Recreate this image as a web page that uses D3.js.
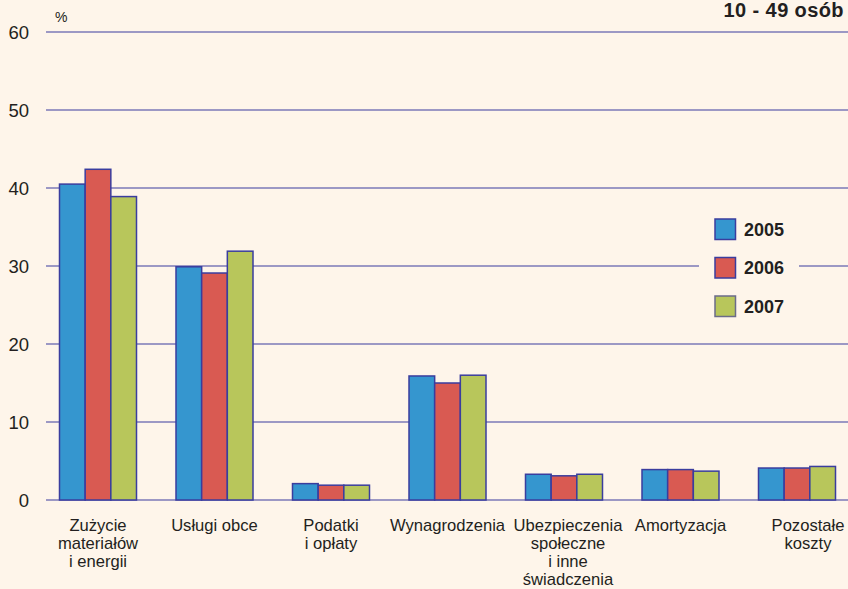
<!DOCTYPE html>
<html>
<head>
<meta charset="utf-8">
<script src="https://cdn.jsdelivr.net/npm/d3@7"></script>
<style>
  body { margin: 0; background: #fef5ea; }
  svg { display: block; font-family: "Liberation Sans", Arial, sans-serif; }
</style>
</head>
<body>
<div id="chart-area"></div>
<script>
var width = 848;
var height = 589;

// data
var categories = ["Zużycie materiałów i energii", "Usługi obce", "Podatki i opłaty", "Wynagrodzenia",
    "Ubezpieczenia społeczne i inne świadczenia", "Amortyzacja", "Pozostałe koszty"];
var categoryLines = [
    ["Zużycie", "materiałów", "i energii"],
    ["Usługi obce"],
    ["Podatki", "i opłaty"],
    ["Wynagrodzenia"],
    ["Ubezpieczenia", "społeczne", "i inne", "świadczenia"],
    ["Amortyzacja"],
    ["Pozostałe", "koszty"]
];
var years = ["2005", "2006", "2007"];
var values2005 = [40.5, 29.9, 2.1, 15.9, 3.3, 3.9, 4.1];
var values2006 = [42.4, 29.1, 1.9, 15.0, 3.1, 3.9, 4.1];
var values2007 = [38.9, 31.9, 1.9, 16.0, 3.3, 3.7, 4.3];
var yTicks = [0, 10, 20, 30, 40, 50, 60];
var colors = ["#3596cf", "#d95a52", "#b8c65b"];
var labelShift = [0, 0, 0, 0, 4, 0, 11];

var series = [values2005, values2006, values2007];

var svg = d3.select("#chart-area").append("svg")
    .attr("width", width)
    .attr("height", height);

svg.append("rect")
    .attr("width", width)
    .attr("height", height)
    .attr("fill", "#fef5ea");

var y = d3.scaleLinear()
    .domain([0, 60])
    .range([500, 32]);

var x = d3.scaleBand()
    .domain(categories)
    .range([39.75, 855.25])
    .paddingInner(0)
    .paddingOuter(0);

var groupWidth = 77;
var x1 = d3.scaleBand()
    .domain(years)
    .range([0, groupWidth]);

var lineColor = "#3a3d9e";

// gridlines
svg.append("g")
    .selectAll("line")
    .data(yTicks)
    .enter()
    .append("line")
    .attr("x1", 46)
    .attr("x2", width)
    .attr("y1", function(d) { return y(d); })
    .attr("y2", function(d) { return y(d); })
    .attr("stroke", lineColor)
    .attr("stroke-width", 1.2);

// y tick labels
svg.append("g")
    .selectAll("text")
    .data(yTicks)
    .enter()
    .append("text")
    .attr("x", 29)
    .attr("y", function(d) { return y(d) + 6.5; })
    .attr("text-anchor", "end")
    .attr("font-size", "18.5px")
    .attr("fill", "#231f20")
    .text(function(d) { return d; });

svg.append("text")
    .attr("x", 55)
    .attr("y", 22)
    .attr("font-size", "14px")
    .attr("fill", "#231f20")
    .text("%");

svg.append("text")
    .attr("x", 844)
    .attr("y", 17)
    .attr("text-anchor", "end")
    .attr("font-size", "20px")
    .attr("letter-spacing", "0.4px")
    .attr("font-weight", "bold")
    .attr("fill", "#231f20")
    .text("10 - 49 osób");

// bars
var groups = svg.append("g")
    .selectAll("g")
    .data(categories)
    .enter()
    .append("g")
    .attr("transform", function(d) {
        return "translate(" + (x(d) + x.bandwidth() / 2 - groupWidth / 2) + ",0)";
    });

groups.selectAll("rect")
    .data(function(d, i) {
        return years.map(function(yr, k) { return { year: yr, k: k, value: series[k][i] }; });
    })
    .enter()
    .append("rect")
    .attr("x", function(d) { return x1(d.year); })
    .attr("y", function(d) { return y(d.value); })
    .attr("width", x1.bandwidth())
    .attr("height", function(d) { return y(0) - y(d.value); })
    .attr("fill", function(d) { return colors[d.k]; })
    .attr("stroke", lineColor)
    .attr("stroke-width", 1.5);

// category labels
var labels = svg.append("g")
    .selectAll("text")
    .data(categories)
    .enter()
    .append("text")
    .attr("x", function(d, i) { return x(d) + x.bandwidth() / 2 + labelShift[i]; })
    .attr("y", 531)
    .attr("text-anchor", "middle")
    .attr("font-size", "16.6px")
    .attr("fill", "#231f20");

labels.selectAll("tspan")
    .data(function(d, i) { return categoryLines[i]; })
    .enter()
    .append("tspan")
    .attr("x", function() { return d3.select(this.parentNode).attr("x"); })
    .attr("dy", function(d, i) { return i === 0 ? 0 : 18; })
    .text(function(d) { return d; });

// legend
var legend = svg.append("g");
legend.append("rect")
    .attr("x", 699)
    .attr("y", 205)
    .attr("width", 100)
    .attr("height", 125)
    .attr("fill", "#fef5ea");

var legendItems = legend.selectAll("g")
    .data(years)
    .enter()
    .append("g")
    .attr("transform", function(d, i) { return "translate(715," + (219 + i * 38.5) + ")"; });

legendItems.append("rect")
    .attr("width", 20.5)
    .attr("height", 20.5)
    .attr("fill", function(d, i) { return colors[i]; })
    .attr("stroke", function(d, i) { return i === 2 ? "#6b6b8a" : lineColor; })
    .attr("stroke-width", 1.5);

legendItems.append("text")
    .attr("x", 29)
    .attr("y", 16.5)
    .attr("font-size", "18px")
    .attr("font-weight", "bold")
    .attr("fill", "#231f20")
    .text(function(d) { return d; });
</script>
</body>
</html>
